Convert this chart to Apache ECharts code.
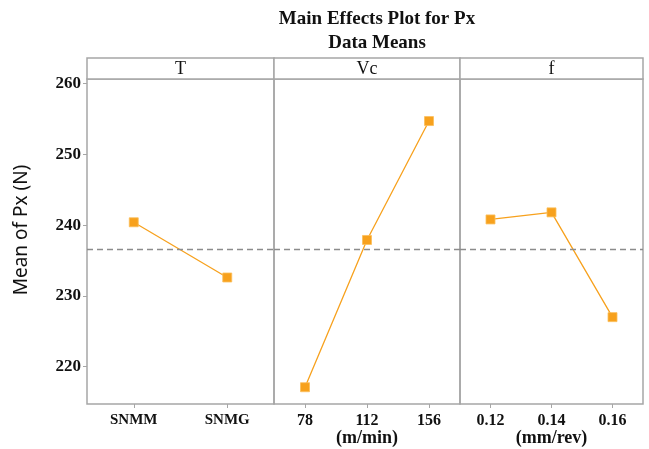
<!DOCTYPE html>
<html><head><meta charset="utf-8">
<script src="https://cdn.jsdelivr.net/npm/echarts@6/dist/echarts.min.js"></script>
<style>html,body{margin:0;padding:0;background:#fff}#c{width:649px;height:449px}</style>
</head><body><div id="c"></div>
<script>
// ---- data ----
const panelTitles = ['T', 'Vc', 'f'];
const levelsT = ['SNMM', 'SNMG'];
const levelsVc = ['78', '112', '156'];
const levelsF = ['0.12', '0.14', '0.16'];
const meansT = [240.4, 232.6];
const meansVc = [217.1, 237.9, 254.7];
const meansF = [240.8, 241.8, 227.0];
const unitNames = ['', '(m/min)', '(mm/rev)'];
const yTicks = [220, 230, 240, 250, 260];
const grandMean = meansVc.reduce((a, b) => a + b, 0) / meansVc.length;

const levels = [levelsT, levelsVc, levelsF];
const means = [meansT, meansVc, meansF];

const chart = echarts.init(document.getElementById('c'), null, {renderer: 'canvas'});
const serif = '"Liberation Serif", "DejaVu Serif", serif';
const frame = '#a6a6a6';
const orange = '#f7a11d';

const panels = [
  {left: 87, width: 187, labelSize: 15},
  {left: 274, width: 186, labelSize: 16},
  {left: 460, width: 183, labelSize: 16}
];
const plotTop = 79, plotHeight = 325;
const yMin = 214.73, yMax = 260.64;

const grids = panels.map(p => ({left: p.left, top: plotTop, width: p.width, height: plotHeight,
  containLabel: false, outerBoundsMode: 'none',
  show: true, borderColor: frame, borderWidth: 1.5, backgroundColor: 'transparent'}));

const xAxes = panels.map((p, i) => ({
  type: 'category', gridIndex: i, data: levels[i], boundaryGap: true,
  axisLine: {show: false},
  axisTick: {show: true, alignWithLabel: true, length: 4, lineStyle: {color: frame}},
  axisLabel: {fontFamily: serif, fontWeight: 'bold', fontSize: p.labelSize, color: '#111', margin: 9},
  name: unitNames[i], nameLocation: 'middle', nameGap: 25, nameMoveOverlap: false,
  nameTextStyle: {fontFamily: serif, fontWeight: 'bold', fontSize: 18, color: '#111'}
}));

const yAxes = panels.map((p, i) => ({
  type: 'value', gridIndex: i, min: yMin, max: yMax,
  splitLine: {show: false},
  axisLine: {show: false},
  axisTick: {show: i === 0, length: 4, lineStyle: {color: frame},
    customValues: yTicks},
  axisLabel: {show: i === 0, fontFamily: serif, fontWeight: 'bold', fontSize: 17, color: '#111', margin: 6,
    customValues: yTicks}
}));

const series = [];
panels.forEach((p, i) => {
  series.push({
    type: 'line', xAxisIndex: i, yAxisIndex: i, data: means[i],
    symbol: 'rect', symbolSize: 9,
    lineStyle: {color: orange, width: 1.3},
    itemStyle: {color: orange, borderColor: '#fbbf5c', borderWidth: 0.8},
    emphasis: {disabled: true}, animation: false, z: 3,
    markLine: {
      silent: true, symbol: 'none', label: {show: false}, animation: false,
      lineStyle: {color: '#8c8c8c', type: [6, 4], width: 1.4},
      data: [{yAxis: grandMean}]
    }
  });
});

const graphics = [];
panels.forEach((p, i) => {
  graphics.push({type: 'rect', shape: {x: p.left, y: 58, width: p.width, height: plotTop - 58},
    style: {fill: '#fff', stroke: frame, lineWidth: 1.5}, z: 10});
  graphics.push({type: 'text', x: p.left + p.width / 2, y: 69,
    style: {text: panelTitles[i], font: '18px ' + serif, fill: '#111', textAlign: 'center', textVerticalAlign: 'middle'}, z: 11});
});
graphics.push({type: 'text', x: 22, y: 230, rotation: Math.PI / 2,
  style: {text: 'Mean of Px (N)', font: '19px "Noto Sans", sans-serif', fill: '#111', textAlign: 'center', textVerticalAlign: 'middle'}});

chart.setOption({
  animation: false,
  title: [
    {text: 'Main Effects Plot for Px', left: 372, top: 5, textAlign: 'center',
     textStyle: {fontFamily: serif, fontWeight: 'bold', fontSize: 19, color: '#111'}},
    {text: 'Data Means', left: 372, top: 29, textAlign: 'center',
     textStyle: {fontFamily: serif, fontWeight: 'bold', fontSize: 19, color: '#111'}}
  ],
  grid: grids, xAxis: xAxes, yAxis: yAxes, series: series, graphic: graphics
});
</script></body></html>
